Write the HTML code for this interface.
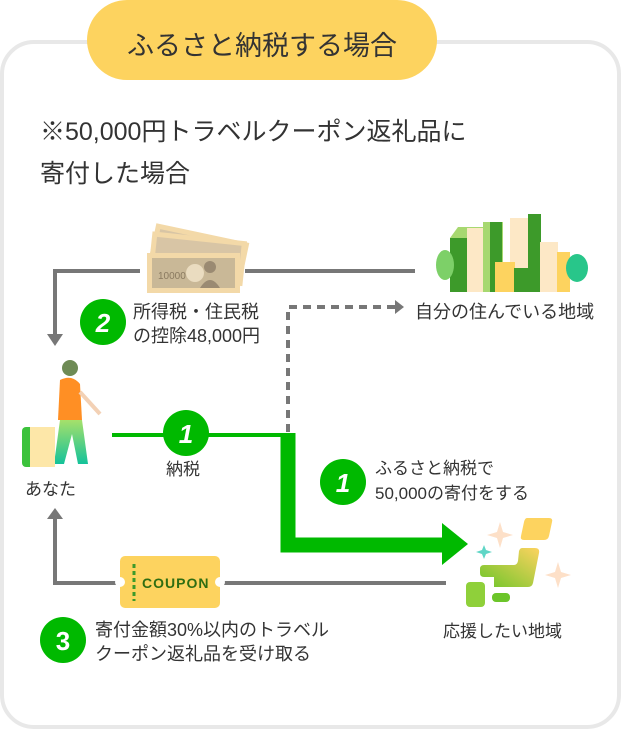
<!DOCTYPE html>
<html><head><meta charset="utf-8"><style>
html,body{margin:0;padding:0;background:#fff;}
svg{display:block;}
text{font-family:"Liberation Sans","Noto Sans CJK JP",sans-serif;fill:#333;}
</style></head><body>
<svg width="622" height="730" viewBox="0 0 622 730" xmlns="http://www.w3.org/2000/svg">
<defs>
<linearGradient id="gm" x1="1" y1="0" x2="0" y2="1"><stop offset="0" stop-color="#fdd35f"/><stop offset="1" stop-color="#6cc52a"/></linearGradient>
<linearGradient id="gp" x1="0" y1="0" x2="0" y2="1"><stop offset="0" stop-color="#a6e06a"/><stop offset="1" stop-color="#14c29a"/></linearGradient>
</defs>
<rect x="2" y="42" width="617" height="685" rx="32" fill="#fff" stroke="#e8e8e8" stroke-width="4"/>
<rect x="87" y="0" width="350" height="80" rx="40" fill="#fdd35f"/>
<text x="262" y="55" font-size="27" text-anchor="middle">ふるさと納税する場合</text>
<text x="40" y="140" font-size="25">※50,000円トラベルクーポン返礼品に</text>
<text x="40" y="182" font-size="25">寄付した場合</text>

<polyline points="140,271 55,271 55,335" fill="none" stroke="#777" stroke-width="4"/>
<polygon points="47,334 63,334 55,346" fill="#777"/>
<line x1="245" y1="271" x2="415" y2="271" stroke="#777" stroke-width="4"/>
<g transform="rotate(12 195 258)"><rect x="150" y="232" width="95" height="45" fill="#f3d9a8"/><rect x="155" y="237" width="85" height="35" fill="#d8c5a5"/></g>
<g transform="rotate(6 195 258)"><rect x="150" y="236" width="95" height="45" fill="#f3d9a8"/><rect x="155" y="241" width="85" height="35" fill="#d8c5a5"/></g>
<rect x="147" y="253" width="93" height="40" fill="#f3d9a8"/>
<rect x="152" y="258" width="83" height="30" fill="#c9b897"/>
<text x="158" y="279" font-size="10" style="fill:#8a7a60">10000</text>
<circle cx="195" cy="273" r="9" fill="#eadcc0"/>
<circle cx="210" cy="267" r="6" fill="#9a8a72"/>
<path d="M200 288 q10 -16 20 0z" fill="#9a8a72"/>

<circle cx="103" cy="322" r="23" fill="#00b900"/>
<text x="103" y="332" font-size="26" font-weight="bold" font-style="italic" text-anchor="middle" style="fill:#fff">2</text>
<text x="133" y="318" font-size="18">所得税・住民税</text>
<text x="133" y="342" font-size="18">の控除48,000円</text>

<polyline points="288,432 288,307 396,307" fill="none" stroke="#777" stroke-width="4" stroke-dasharray="8,6"/>
<polygon points="395,300 404,307 395,314" fill="#777"/>
<text x="415" y="318" font-size="18">自分の住んでいる地域</text>

<rect x="450" y="238" width="30" height="54" fill="#3d9a2a"/>
<polygon points="450,238 458,227 487,227 480,238" fill="#a7d870"/>
<rect x="467" y="228" width="30" height="64" fill="#fde8c6"/>
<rect x="483" y="222" width="20" height="70" fill="#a7d870"/>
<rect x="490" y="222" width="12" height="70" fill="#3d9a2a"/>
<rect x="510" y="218" width="18" height="74" fill="#fde8c6"/>
<polygon points="528,214 541,214 541,292 528,292" fill="#3d9a2a"/>
<rect x="495" y="262" width="20" height="30" fill="#fdd35f"/>
<rect x="514" y="268" width="14" height="24" fill="#3d9a2a"/>
<rect x="540" y="242" width="18" height="50" fill="#fde8c6"/>
<rect x="557" y="252" width="13" height="40" fill="#fdd35f"/>
<ellipse cx="445" cy="265" rx="9" ry="15" fill="#7dd068"/>
<ellipse cx="577" cy="268" rx="11" ry="14" fill="#28c68a"/>

<circle cx="70" cy="368" r="8" fill="#6e8b55"/>
<path d="M60 380 q12 -6 20 4 l2 36 h-24z" fill="#ff8f24"/>
<path d="M60 420 h22 l6 44 h-10 l-6 -30 l-8 30 h-10z" fill="url(#gp)"/>
<path d="M80 392 l20 22" stroke="#f3d1b5" stroke-width="4"/>
<rect x="22" y="427" width="33" height="40" rx="4" fill="#3cc23c"/>
<rect x="30" y="427" width="25" height="40" fill="#fde7a8"/>
<text x="25" y="495" font-size="17">あなた</text>

<line x1="112" y1="435" x2="292" y2="435" stroke="#00b900" stroke-width="4"/>
<polyline points="288,433 288,545 444,545" fill="none" stroke="#00b900" stroke-width="15"/>
<polygon points="442,523 468,544 442,565" fill="#00b900"/>
<circle cx="186" cy="433" r="23" fill="#00b900"/>
<text x="186" y="443" font-size="26" font-weight="bold" font-style="italic" text-anchor="middle" style="fill:#fff">1</text>
<text x="166" y="475" font-size="17">納税</text>
<circle cx="343" cy="482" r="23" fill="#00b900"/>
<text x="343" y="492" font-size="26" font-weight="bold" font-style="italic" text-anchor="middle" style="fill:#fff">1</text>
<text x="375" y="474" font-size="17">ふるさと納税で</text>
<text x="375" y="499" font-size="17">50,000の寄付をする</text>

<path d="M527 518 h22 q4 0 3 4 l-3 14 q-1 4 -5 4 h-20 q-4 0 -3 -4 l3 -14 q1 -4 3 -4z" fill="#fdd35f"/>
<path d="M522 548 h13 q5 0 4 5 l-6 30 q-1 4 -5 4 h-34 v-10 h-10 q-4 0 -4 -4 v-4 q0 -4 4 -4 h30 q3 0 4 -4 l1 -10 q1 -3 3 -3z" fill="url(#gm)"/>
<rect x="466" y="582" width="19" height="25" rx="4" fill="#8fd03a"/>
<rect x="492" y="593" width="18" height="9" rx="4" fill="#6cc52a"/>
<path d="M500 522 l3 10 l10 3 l-10 3 l-3 10 l-3 -10 l-10 -3 l10 -3z" fill="#fde0c8"/>
<path d="M558 562 l3 10 l10 3 l-10 3 l-3 10 l-3 -10 l-10 -3 l10 -3z" fill="#fde0c8"/>
<path d="M484 545 l2 5 l6 2 l-6 2 l-2 5 l-2 -5 l-6 -2 l6 -2z" fill="#5fd6c6"/>
<text x="443" y="637" font-size="17">応援したい地域</text>

<polyline points="120,583 55,583 55,518" fill="none" stroke="#777" stroke-width="4"/>
<polygon points="47,519 63,519 55,508" fill="#777"/>
<line x1="224" y1="583" x2="446" y2="583" stroke="#777" stroke-width="4"/>
<rect x="120" y="556" width="100" height="52" rx="5" fill="#fdd35f"/>
<circle cx="120" cy="582" r="5" fill="#fff"/>
<circle cx="220" cy="582" r="5" fill="#fff"/>
<line x1="134" y1="564" x2="134" y2="601" stroke="#3d9a2a" stroke-width="3" stroke-dasharray="4,3"/>
<text x="142" y="588" font-size="14" font-weight="bold" letter-spacing="1" style="fill:#2f6d12">COUPON</text>
<circle cx="63" cy="640" r="23" fill="#00b900"/>
<text x="63" y="650" font-size="26" font-weight="bold" text-anchor="middle" style="fill:#fff">3</text>
<text x="95" y="636" font-size="18">寄付金額30%以内のトラベル</text>
<text x="95" y="660" font-size="18">クーポン返礼品を受け取る</text>
</svg>
</body></html>
